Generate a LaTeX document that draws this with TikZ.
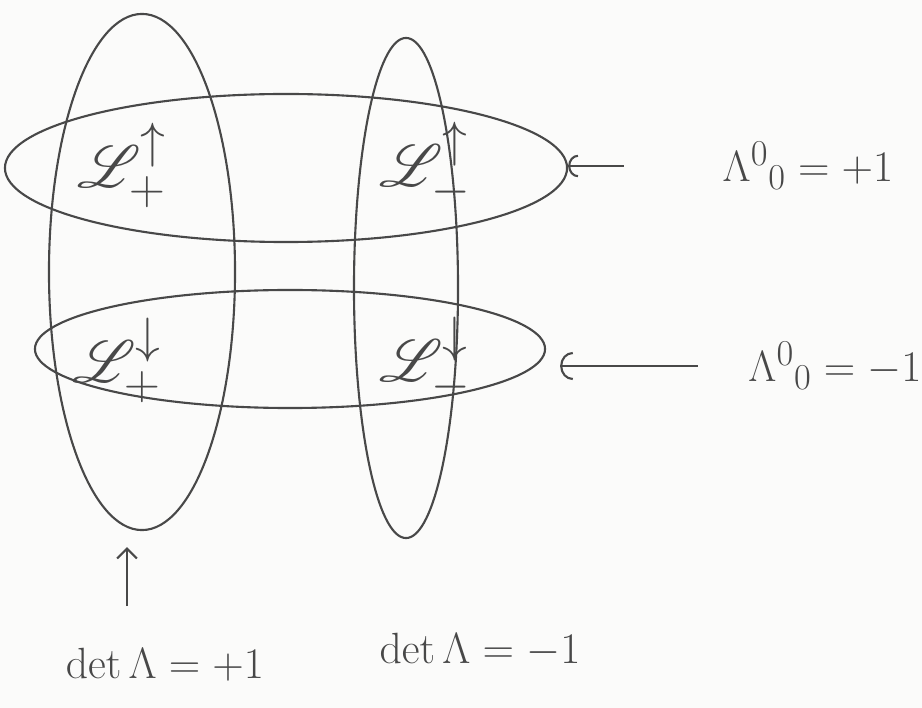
\documentclass[tikz,border=0pt]{standalone}
\usepackage{amsmath}
\usepackage{amssymb}
\usepackage{mathrsfs}
\usetikzlibrary{shapes.geometric,arrows.meta,positioning,calc}
\definecolor{inkcolor}{RGB}{72,72,72}
\definecolor{papercolor}{RGB}{251,251,250}

\begin{document}
\begin{tikzpicture}[
  x=0.025cm, y=-0.025cm,
  blob/.style={
    draw=inkcolor,
    ellipse,
    line width=1.5pt,
    inner sep=0pt
  },
  comp/.style={font=\Huge, scale=1.7, text=inkcolor},
  cond/.style={font=\Huge, scale=1.25, text=inkcolor},
  hand/.style={draw=inkcolor, line width=1.5pt}
]

% Paper
\fill[papercolor] (0,0) rectangle (922,708);
\useasboundingbox (0,0) rectangle (922,708);

% Vertical blobs: det = +1 / det = -1
\node[blob, minimum width=4.65cm, minimum height=12.9cm] (detplus) at (142,272) {};
\node[blob, minimum width=2.6cm, minimum height=12.5cm] (detminus) at (406,288) {};

% Horizontal blobs: orthochronous / non-orthochronous
\node[blob, minimum width=14.05cm, minimum height=3.7cm] (ortho) at (286,168) {};
\node[blob, minimum width=12.75cm, minimum height=2.95cm] (nonortho) at (290,349) {};

% Components
\node[comp] (Lpu) at (122,165) {$\mathscr{L}_+^{\uparrow}$};
\node[comp] (Lmu) at (425,165) {$\mathscr{L}_-^{\uparrow}$};
\node[comp] (Lpd) at (117,360) {$\mathscr{L}_+^{\downarrow}$};
\node[comp] (Lmd) at (425,360) {$\mathscr{L}_-^{\downarrow}$};

% Conditions
\node[cond] (lamplus) at (808,166) {$\Lambda^0{}_0 = +1$};
\node[cond] (lamminus) at (835,366) {$\Lambda^0{}_0 = -1$};
\node[cond] (detp) at (165,665) {$\det\Lambda = +1$};
\node[cond] (detm) at (480,650) {$\det\Lambda = -1$};

% Arrows
\draw[hand, {Arc Barb[length=7pt, width=16pt]}-, shorten >=2.3cm]
  (lamplus.west -| ortho.east) -- (lamplus.west);
\draw[hand, {Arc Barb[length=9pt, width=20pt]}-, shorten <=0.35cm, shorten >=1.1cm]
  (lamminus.west -| nonortho.east) -- (lamminus.west);

\coordinate (upx) at (127,0);
\draw[hand, -{Straight Barb[length=7pt, width=14pt]}, shorten <=0.9cm, shorten >=0.4cm]
  (detp.north -| upx) -- (detplus.south -| upx);

\end{tikzpicture}
\end{document}
